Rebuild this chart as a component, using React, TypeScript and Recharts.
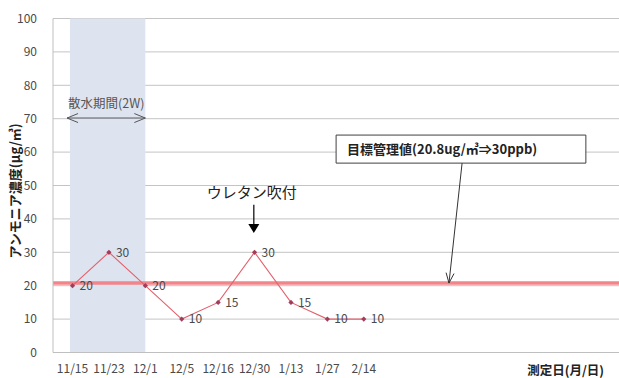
import React from "react";
import {
  ComposedChart,
  Line,
  XAxis,
  YAxis,
  CartesianGrid,
  ReferenceArea,
  ReferenceLine,
  LabelList,
} from "recharts";

// Measurement dates (month/day) and ammonia concentration (µg/m³)
const dates = ["11/15", "11/23", "12/1", "12/5", "12/16", "12/30", "1/13", "1/27", "2/14"];
const ammonia = [20, 30, 20, 10, 15, 30, 15, 10, 10];
const yTicks = [0, 10, 20, 30, 40, 50, 60, 70, 80, 90, 100];

// Target control value 20.8 µg/m³ (≈ 30 ppb)
const targetValue = 20.8;
const targetText = "目標管理値(20.8ug/㎥⇒30ppb)";

// Water spraying period (2 weeks), in date-index units
const sprayStart = -0.07;
const sprayEnd = 2;
const sprayText = "散水期間(2W)";

// Urethane spraying note above 12/30
const urethaneText = "ウレタン吹付";
const urethaneIndex = 5;

const data = dates.map((d, i) => ({ idx: i, date: d, value: ammonia[i] }));

const FONT = "'Noto Sans CJK JP', 'Noto Sans', sans-serif";
const TEXT_GRAY = "#4a4a4a";

const Diamond = (props: any) => {
  const { cx, cy } = props;
  if (cx == null || cy == null) return null;
  const r = 2.6;
  return (
    <polygon
      points={`${cx},${cy - r} ${cx + r},${cy} ${cx},${cy + r} ${cx - r},${cy}`}
      fill="#a33c5a"
    />
  );
};

// Open "V" arrowhead at (x2,y2) pointing along (x1,y1)->(x2,y2)
const openHead = (x1: number, y1: number, x2: number, y2: number, len = 8, half = 4) => {
  const dx = x2 - x1;
  const dy = y2 - y1;
  const L = Math.hypot(dx, dy) || 1;
  const ux = dx / L;
  const uy = dy / L;
  const bx = x2 - ux * len;
  const by = y2 - uy * len;
  const px = -uy * half;
  const py = ux * half;
  return `M${bx + px},${by + py} L${x2},${y2} L${bx - px},${by - py}`;
};

const targetArrow = (p: any) => {
  const { x1, y1, x2, y2 } = p;
  return (
    <g>
      <line x1={x1} y1={y1} x2={x2} y2={y2} stroke="#333" strokeWidth={1} />
      <path d={openHead(x1, y1, x2, y2, 10, 4)} stroke="#333" fill="none" strokeWidth={1} />
    </g>
  );
};

const sprayArrow = (p: any) => {
  const { x1, y1, x2, y2 } = p;
  return (
    <g>
      <line x1={x1} y1={y1} x2={x2} y2={y2} stroke="#555" strokeWidth={1} />
      <path d={openHead(x2, y2, x1, y1, 11, 4.5)} stroke="#555" fill="none" strokeWidth={1} />
      <path d={openHead(x1, y1, x2, y2, 11, 4.5)} stroke="#555" fill="none" strokeWidth={1} />
      <text x={x1 + 1} y={y1 - 10} fontSize={12.5} fill="#555" fontFamily={FONT}>
        {sprayText}
      </text>
    </g>
  );
};

const urethaneArrow = (p: any) => {
  const { x1, y1, x2, y2 } = p;
  return (
    <g>
      <line x1={x1} y1={y1} x2={x2} y2={y2 - 8} stroke="#000" strokeWidth={1.2} />
      <polygon points={`${x2 - 5.5},${y2 - 9} ${x2 + 5.5},${y2 - 9} ${x2},${y2}`} fill="#000" />
      <text
        x={x1 - 2}
        y={y1 - 7}
        fontSize={15}
        textAnchor="middle"
        fill="#222"
        fontFamily={FONT}
      >
        {urethaneText}
      </text>
    </g>
  );
};

const targetBoxLabel = (p: any) => {
  const { viewBox } = p;
  if (!viewBox) return null;
  return (
    <text
      x={viewBox.x + 11}
      y={viewBox.y + viewBox.height / 2 + 5}
      fontSize={13}
      fontWeight="bold"
      fill="#222"
      fontFamily={FONT}
    >
      {targetText}
    </text>
  );
};

const yAxisTitle = (p: any) => {
  const { viewBox } = p;
  if (!viewBox) return null;
  const x = viewBox.x + 14;
  const y = 191;
  return (
    <text
      x={x}
      y={y}
      transform={`rotate(-90 ${x} ${y})`}
      textAnchor="middle"
      dominantBaseline="central"
      fontSize={13}
      fontWeight="bold"
      fill="#222"
      fontFamily={FONT}
    >
      アンモニア濃度(μg/㎥)
    </text>
  );
};

const xAxisTitle = (p: any) => {
  const { viewBox } = p;
  if (!viewBox) return null;
  return (
    <text
      x={viewBox.x + viewBox.width - 15}
      y={viewBox.y + 22}
      textAnchor="end"
      fontSize={12.5}
      fontWeight="bold"
      fill="#222"
      fontFamily={FONT}
    >
      測定日(月/日)
    </text>
  );
};

export default function App() {
  return (
    <div style={{ position: "absolute", left: 0, top: 0, background: "#fff" }}>
      <ComposedChart
        width={619}
        height={378}
        data={data}
        margin={{ top: 18.5, right: 0, bottom: 0, left: 0 }}
        style={{ fontFamily: FONT }}
      >
        <CartesianGrid vertical={false} stroke="#c4c4c4" strokeWidth={1} />
        <ReferenceArea
          x1={sprayStart}
          x2={sprayEnd}
          y1={0}
          y2={100}
          fill="#dde4f0"
          fillOpacity={1}
          stroke="none"
        />
        <XAxis
          dataKey="idx"
          type="number"
          domain={[-0.536, 15.01]}
          ticks={dates.map((_, i) => i)}
          tickFormatter={(v: number) => dates[v] ?? ""}
          allowDataOverflow
          height={25.5}
          tickLine={false}
          axisLine={{ stroke: "#bfbfbf" }}
          tick={{ fontSize: 12, fill: TEXT_GRAY, fontFamily: FONT }}
          tickMargin={6}
          interval={0}
          label={{ content: xAxisTitle }}
        />
        <YAxis
          type="number"
          domain={[0, 100]}
          ticks={yTicks}
          width={53}
          tickLine={false}
          axisLine={{ stroke: "#bfbfbf" }}
          tick={{ fontSize: 12, fill: TEXT_GRAY, fontFamily: FONT }}
          tickMargin={10}
          label={{ content: yAxisTitle }}
        />
        <ReferenceLine
          y={targetValue}
          stroke="#f2858a"
          strokeWidth={3.5}
        />
        <ReferenceLine
          segment={[
            { x: -0.15, y: 70.2 },
            { x: sprayEnd, y: 70.2 },
          ]}
          shape={sprayArrow}
        />
        <ReferenceLine
          segment={[
            { x: urethaneIndex - 0.02, y: 44.2 },
            { x: urethaneIndex - 0.02, y: 35.8 },
          ]}
          shape={urethaneArrow}
        />
        <ReferenceArea
          x1={7.24}
          x2={14.1}
          y1={56.7}
          y2={65.1}
          fill="#ffffff"
          fillOpacity={1}
          stroke="#404040"
          strokeWidth={1}
          label={{ content: targetBoxLabel }}
        />
        <ReferenceLine
          segment={[
            { x: 10.7, y: 56.7 },
            { x: 10.34, y: targetValue },
          ]}
          shape={targetArrow}
        />
        <Line
          dataKey="value"
          stroke="#e4606c"
          strokeWidth={1.1}
          dot={<Diamond />}
          activeDot={false}
          isAnimationActive={false}
        >
          <LabelList
            dataKey="value"
            position="right"
            offset={7}
            style={{ fontSize: 12, fill: TEXT_GRAY, fontFamily: FONT }}
          />
        </Line>
      </ComposedChart>
    </div>
  );
}
